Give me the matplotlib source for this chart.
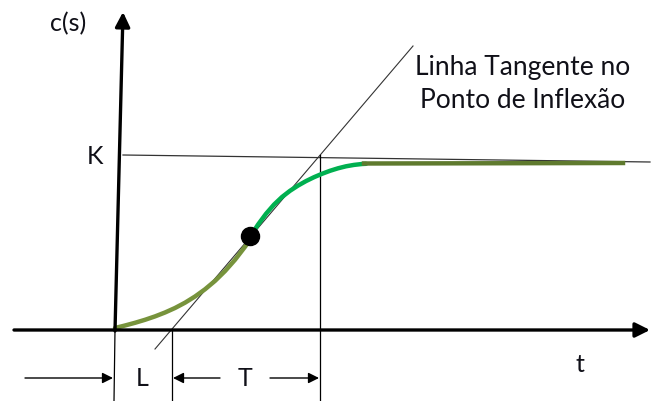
import matplotlib
matplotlib.use("Agg")
import matplotlib.pyplot as plt
import numpy as np

plt.rcParams['font.family'] = ['Lato', 'DejaVu Sans']

# diagram drawn in pixel units (y grows downwards)
curve_low_x = [115, 125, 135, 145, 155, 165, 175, 185, 195, 205, 215, 225,
               235, 245, 250]
curve_low_y = [328, 325.5, 322.8, 319.8, 316.4, 312.5, 308.0, 302.7, 296.5,
               289.3, 280.9, 271.1, 259.8, 246.8, 240]
curve_mid_x = [250, 258, 266, 274, 282, 290, 298, 306, 314, 322, 330, 338,
               346, 354, 362, 366]
curve_mid_y = [237, 224.6, 213.8, 204.6, 197.0, 190.8, 185.6, 181.1, 177.2,
               173.8, 170.8, 168.3, 166.3, 164.9, 164.0, 163.8]
flat_x = [364, 623]
flat_y = [163.5, 163]

k_line_x = [123, 650]
k_line_y = [155, 162]
tangent_x = [155, 413]
tangent_y = [349, 46]
inflexion = (250, 236)

L_x, T_x = 172, 320

txt_col = '#101018'

fig = plt.figure(figsize=(6.51, 4.01), dpi=100)
ax = fig.add_axes([0, 0, 1, 1])
ax.set_xlim(0, 651)
ax.set_ylim(401, 0)
ax.axis('off')

# axes
ax.annotate('', xy=(650, 330), xytext=(14, 330),
            arrowprops=dict(arrowstyle='-|>', lw=2.4, color='black',
                            mutation_scale=22, shrinkA=0, shrinkB=0))
ax.annotate('', xy=(123, 12), xytext=(115, 331),
            arrowprops=dict(arrowstyle='-|>', lw=2.4, color='black',
                            mutation_scale=22, shrinkA=0, shrinkB=0))
ax.plot([115, 114], [330, 401], color='black', lw=0.9)

# K level and tangent
ax.plot(k_line_x, k_line_y, color='#333333', lw=0.9)
ax.plot(tangent_x, tangent_y, color='#333333', lw=0.8)
ax.plot([L_x, L_x], [330, 401], color='black', lw=0.9)
ax.plot([T_x, T_x], [155, 401], color='black', lw=0.9)

# response curve
ax.plot(curve_low_x, curve_low_y, color='#77933C', lw=3.2,
        solid_capstyle='round', solid_joinstyle='round')
ax.plot(curve_mid_x, curve_mid_y, color='#00B050', lw=3.2,
        solid_capstyle='round', solid_joinstyle='round')
ax.plot(flat_x, flat_y, color='#5F7A2E', lw=3.2)
ax.plot(*inflexion, 'o', color='black', ms=13)

# dimension arrows
arr = dict(arrowstyle='-|>', lw=1.0, color='black', mutation_scale=16,
           shrinkA=0, shrinkB=0)
ax.annotate('', xy=(113, 378), xytext=(25, 378), arrowprops=arr)
ax.annotate('', xy=(173, 378), xytext=(220, 378), arrowprops=arr)
ax.annotate('', xy=(319, 378), xytext=(270, 378), arrowprops=arr)

# labels
lab = dict(fontsize=18, color=txt_col, ha='center', va='center')
ax.text(68, 24, 'c(s)', **lab)
ax.text(95, 156, 'K', **lab)
ax.text(580, 364, 't', **lab)
ax.text(142, 378, 'L', **lab)
ax.text(245, 378, 'T', **lab)
ax.text(523, 68, 'Linha Tangente no', fontsize=19, color=txt_col,
        ha='center', va='center')
ax.text(523, 100, 'Ponto de Inflexão', fontsize=19, color=txt_col,
        ha='center', va='center')

fig.savefig('out.png', dpi=100)
